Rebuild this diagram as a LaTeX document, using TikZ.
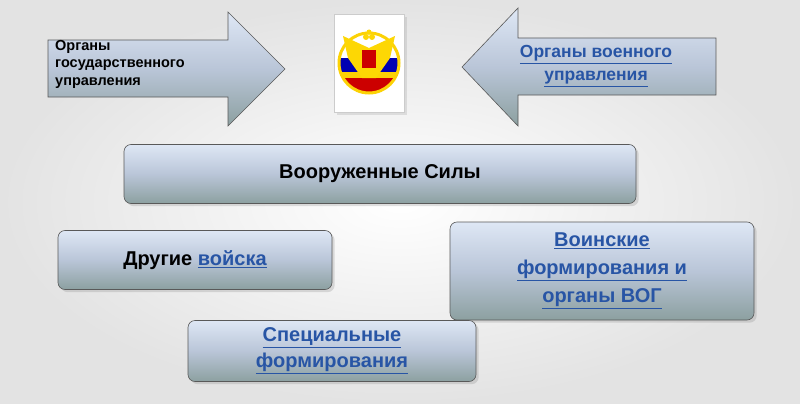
\documentclass[tikz,border=0pt]{standalone}
\usepackage{fontspec}
\setmainfont{Liberation Sans}
\usetikzlibrary{shapes.arrows,shadows}
\definecolor{lnk}{RGB}{40,85,165}
\definecolor{topc}{RGB}{200,215,238}
\definecolor{botc}{RGB}{140,160,160}
\tikzset{
  grad/.style={top color=topc!60!white,bottom color=botc,middle color=topc!80!gray,draw=gray!70!black,line width=0.6pt},
  rbox/.style={grad,rounded corners=7pt,drop shadow={opacity=0.25}},
  lbl/.style={font=\bfseries,align=center,text=black},
}
\newcommand{\lk}[1]{\textcolor{lnk}{\underline{#1}}}
\begin{document}
\begin{tikzpicture}[x=1pt,y=-1pt]
\useasboundingbox (0,0) rectangle (800,404);
\shade[inner color=white,outer color=gray!22] (0,0) rectangle (800,404);
% left arrow
\draw[grad] (48,40) -- (228,40) -- (228,12) -- (285,69) -- (228,126) -- (228,97) -- (48,97) -- cycle;
\node[lbl,anchor=north west,align=left,font=\bfseries\fontsize{14.5}{17.5}\selectfont,inner sep=0] (la) at (55,40) {Органы\\государственного\\управления};
% right arrow
\draw[grad] (716,38) -- (518,38) -- (518,8) -- (462,67) -- (518,126) -- (518,95) -- (716,95) -- cycle;
\node[lbl,font=\bfseries\fontsize{17.5}{23}\selectfont] (ra) at (596,66) {\lk{Органы военного}\\\lk{управления}};
% emblem
\node[draw=gray!40,fill=white,minimum width=70,minimum height=98,inner sep=0,drop shadow={opacity=0.2}] (em) at (369,63) {};
\begin{scope}
\clip (369,63) circle (29);
\fill[white] (340,34) rectangle (398,58);
\fill[blue!70!black] (340,58) rectangle (398,72);
\fill[red!80!black] (340,78) rectangle (398,92);
\fill[yellow!70!orange] (340,72) rectangle (398,78);
\end{scope}
\draw[yellow!70!orange,line width=3pt] (369,63) circle (30);
\fill[yellow!75!orange] (369,48) -- (343,36) -- (348,58) -- (362,78) -- (376,78) -- (390,58) -- (395,36) -- cycle;
\fill[red!80!black] (362,50) rectangle (376,68);
\fill[yellow!75!orange] (366,37) circle (3) (372,37) circle (3) (369,32) circle (2.5);
% boxes
\node[rbox,minimum width=512,minimum height=59,lbl,font=\bfseries\fontsize{20}{24}\selectfont] (vs) at (380,174) {Вооруженные Силы};
\node[rbox,minimum width=274,minimum height=59,lbl,font=\bfseries\fontsize{20}{24}\selectfont] (dv) at (195,260) {Другие \lk{войска}};
\node[rbox,minimum width=304,minimum height=98,lbl,font=\bfseries\fontsize{20}{28}\selectfont] (vf) at (602,271) {\lk{Воинские}\\\lk{формирования и}\\\lk{органы ВОГ}};
\node[rbox,minimum width=288,minimum height=61,lbl,font=\bfseries\fontsize{20}{26}\selectfont] (sf) at (332,351) {\lk{Специальные}\\\lk{формирования}};
\end{tikzpicture}
\end{document}
